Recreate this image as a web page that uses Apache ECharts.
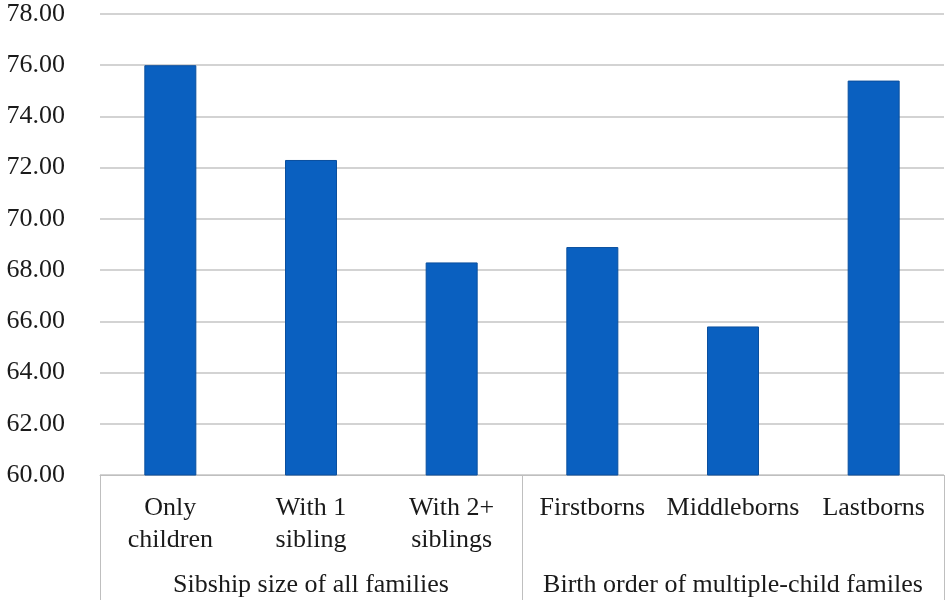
<!DOCTYPE html>
<html>
<head>
<meta charset="utf-8">
<script src="https://cdn.jsdelivr.net/npm/echarts@6/dist/echarts.min.js"></script>
<style>html,body{margin:0;padding:0;background:#fff}#c{width:950px;height:604px}</style>
</head>
<body>
<div id="c"></div>
<script>
var categories = ['Only\nchildren', 'With 1\nsibling', 'With 2+\nsiblings', 'Firstborns', 'Middleborns', 'Lastborns'];
var groups = ['Sibship size of all families', 'Birth order of multiple-child familes'];
var values = [76.0, 72.3, 68.3, 68.9, 65.8, 75.4];
var yMin = 60, yMax = 78, yStep = 2;

var font = 'Liberation Serif, Times New Roman, serif';
var chart = echarts.init(document.getElementById('c'));
chart.setOption({
  animation: false,
  grid: { left: 100, right: 6, top: 14, bottom: 129 },
  xAxis: [
    {
      type: 'category', data: categories, position: 'bottom',
      axisLine: { show: true, lineStyle: { color: '#bfbfbf', width: 1 } },
      axisTick: { show: false },
      axisLabel: { fontFamily: font, fontSize: 26, color: '#1a1a1a', lineHeight: 32, margin: 17, interval: 0 }
    },
    {
      type: 'category', data: groups, position: 'bottom',
      axisLine: { show: false },
      axisTick: { show: true, length: 125, lineStyle: { color: '#bfbfbf', width: 1 } },
      axisLabel: { fontFamily: font, fontSize: 26, color: '#1a1a1a', margin: 97, interval: 0 },
      splitLine: { show: false }
    }
  ],
  yAxis: {
    type: 'value', min: yMin, max: yMax, interval: yStep,
    axisLine: { show: false }, axisTick: { show: false },
    axisLabel: { fontFamily: font, fontSize: 26, color: '#1a1a1a', margin: 35,
      formatter: function (v) { return v.toFixed(2); } },
    splitLine: { lineStyle: { color: '#c4c4c4', width: 1.5 } }
  },
  series: [{
    type: 'bar', data: values, xAxisIndex: 0, barWidth: 52,
    itemStyle: { color: '#0a60c0', borderColor: '#0a4f9e', borderWidth: 1 }
  }]
});
</script>
</body>
</html>
